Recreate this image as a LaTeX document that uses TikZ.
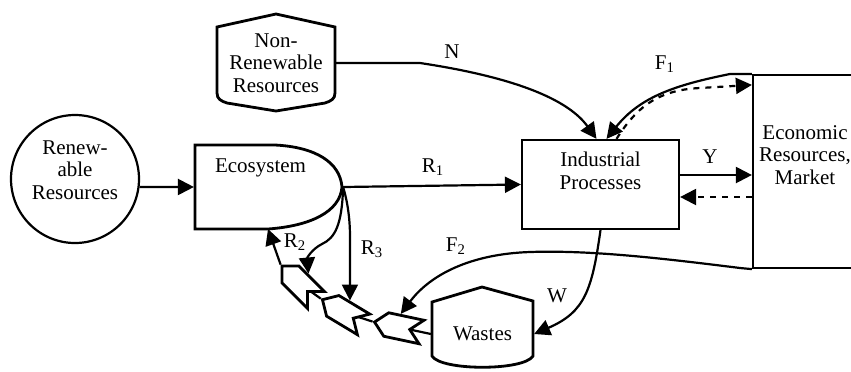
\documentclass[tikz,border=0pt]{standalone}
\usepackage{fontspec}
\setmainfont{Liberation Serif}
\usetikzlibrary{arrows.meta,shapes.symbols,backgrounds}
\tikzset{
  arr/.style={-{Triangle[length=8pt,width=8pt]}},
  outline/.style={line width=1.4pt},
  link/.style={line width=1.1pt},
  chev/.style={signal,signal to=west,signal from=east,draw,fill=white,line width=1.4pt,
    minimum width=24pt,minimum height=12pt,inner sep=0pt},
  lbl/.style={inner sep=1pt}
}
\begin{document}
\begin{tikzpicture}[x=0.5pt,y=-0.5pt,line width=1.1pt,font=\fontsize{10.5}{11.25}\selectfont]
 \useasboundingbox (0,0) rectangle (851,371);
 \node[circle,draw,minimum size=64pt,label={[align=center,yshift=4.5pt]center:{Renew-\\able\\Resources}}] (renew) at (75,179) {};
 \node[minimum width=73.5pt,minimum height=42pt,label={[xshift=-4pt,yshift=9.5pt]center:Ecosystem}] (eco) at (268.5,187) {};
 \draw[outline] (275,145) -- (195,145) -- (195,229) -- (268,229) .. controls (310,226) and (340,212) .. (342,187) .. controls (340,162) and (315,147) .. (275,145) -- cycle;
 \node[minimum width=59pt,minimum height=47.5pt,align=center] (nonren) at (276,63) {Non-\\Renewable\\Resources};
 \draw[outline] (217,27) -- (276,14) -- (335,27) -- (335,93) .. controls (335,99) and (331,101) .. (325,103) -- (276,111) -- (227,103) .. controls (221,101) and (217,99) .. (217,93) -- cycle;
 \node[draw,minimum width=78.5pt,minimum height=44.5pt,label={[align=center,yshift=6.75pt]center:{Industrial\\Processes}}] (ind) at (600.5,184.5) {};
 \node[minimum width=53.5pt,minimum height=96.5pt,label={[align=center,xshift=-0.75pt,yshift=8.25pt]center:{Economic\\Resources,\\Market}}] (econ) at (806.5,171.5) {};
 \draw (860,75) -- (753,75) -- (753,268) -- (860,268);
 \node[minimum width=50.5pt,minimum height=41.5pt] (wastes) at (482.5,334) {Wastes};
 \draw[outline] (432,302) -- (482,287) -- (533,301) -- (533,356) .. controls (524,371) and (441,371) .. (432,356) -- cycle;
 \node[chev,rotate=-45] (c1) at (299,283) {};
 \node[chev,rotate=-31] (c2) at (343,312) {};
 \node[chev,rotate=-12] (c3) at (398,327) {};
 \coordinate (ecoBot) at (268,229);
 \begin{scope}[on background layer]
  \draw[link] (wastes.west) -- (c3.center);
  \draw[link] (c3.west) -- (c2.center);
  \draw[link] (c2.west) -- (c1.center);
 \end{scope}
 \draw[arr] (c1.west) -- (ecoBot);
 \draw[arr] (renew.-7) -- (eco.west);
 \draw[arr] (eco.east) -- (ind.west);
 \draw[arr] (nonren.east) -- (420,63) .. controls (500,75) and (565,95) .. ([xshift=-2pt]ind.north);
 \draw[arr] (econ.north west) -- (730,74) .. controls (675,85) and (640,97) .. ([xshift=3pt]ind.north);
 \draw[arr,dashed] ([xshift=8pt]ind.north) .. controls (635,110) and (655,90) .. (700,88) -- ([yshift=-5.5pt]econ.north west);
 \draw[arr] ([yshift=4.75pt]ind.east) -- ([yshift=-1.75pt]econ.west);
 \draw[arr,dashed] ([yshift=-12.75pt]econ.west) -- ([yshift=-6.25pt]ind.east);
 \draw[arr] (ind.south) .. controls (592,290) and (585,312) .. (wastes.east);
 \draw[arr] (econ.south west) -- (740,268) .. controls (660,258) and (590,250) .. (530,252) .. controls (470,254) and (430,275) .. (c3.north);
 \draw[arr] (eco.east) .. controls (342,225) and (335,238) .. (322,244) .. controls (312,249) and (307,258) .. (c1.north);
 \draw[arr] (eco.east) .. controls (350,210) and (350,230) .. (350,240) -- (c2.north);
 \node[lbl] (lN) at (452,52) {N};
 \node[lbl] (lF1) at (665,64) {F\textsubscript{1}};
 \node[lbl] (lY) at (710,157) {Y};
 \node[lbl] (lR1) at (433,167) {R\textsubscript{1}};
 \node[lbl] (lR2) at (295,242) {R\textsubscript{2}};
 \node[lbl] (lR3) at (372,249) {R\textsubscript{3}};
 \node[lbl] (lF2) at (456,246) {F\textsubscript{2}};
 \node[lbl] (lW) at (557,296) {W};
\end{tikzpicture}
\end{document}
